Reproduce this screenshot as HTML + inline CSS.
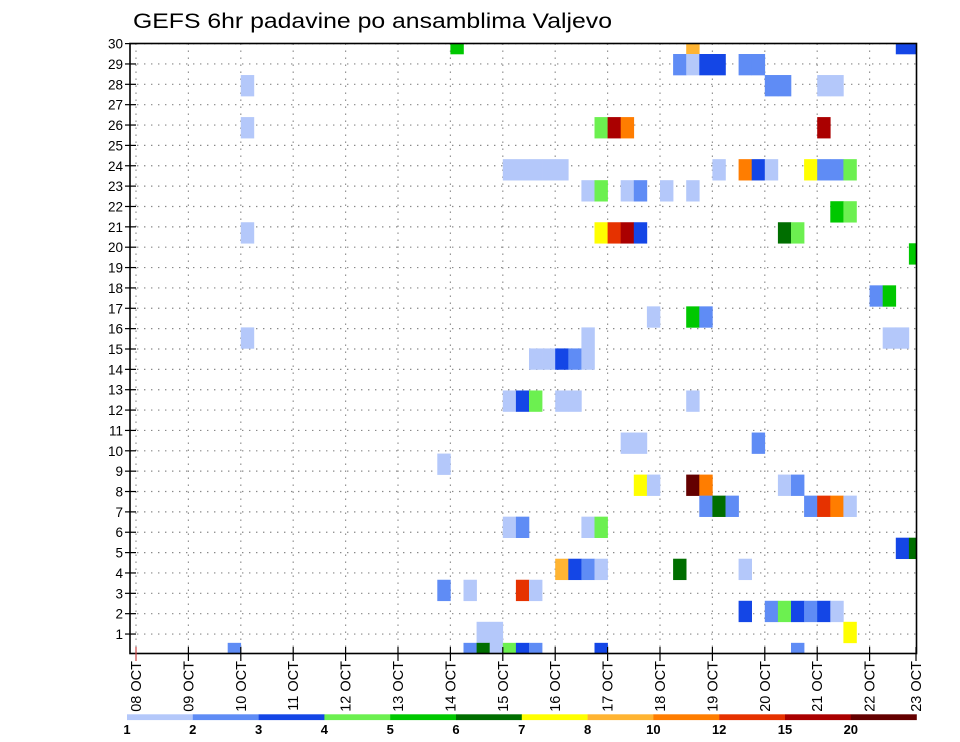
<!DOCTYPE html>
<html><head><meta charset="utf-8"><style>
html,body{margin:0;padding:0;background:#fff;}
svg{display:block;font-family:"Liberation Sans",sans-serif;}
</style></head><body>
<svg id="chart" width="960" height="742" viewBox="0 0 960 742" xmlns="http://www.w3.org/2000/svg">
<text x="133" y="28" font-size="21" textLength="479" lengthAdjust="spacingAndGlyphs" fill="#000">GEFS 6hr padavine po ansamblima Valjevo</text>
<defs><clipPath id="plotclip"><rect x="130" y="43.5" width="786.5" height="610"/></clipPath></defs>
<g id="grid"></g>
<g id="cells" clip-path="url(#plotclip)"></g>
<rect x="130" y="43.5" width="786.5" height="610" fill="none" stroke="#000" stroke-width="1.6"/>
<g id="axes"></g>
<g id="cbar"></g>
</svg>
<script>
// data
const dayLabels = ["08 OCT","09 OCT","10 OCT","11 OCT","12 OCT","13 OCT","14 OCT","15 OCT","16 OCT","17 OCT","18 OCT","19 OCT","20 OCT","21 OCT","22 OCT","23 OCT"];
const memberTicks = [1,2,3,4,5,6,7,8,9,10,11,12,13,14,15,16,17,18,19,20,21,22,23,24,25,26,27,28,29,30];
const classLabels = ["1","2","3","4","5","6","7","8","10","12","15","20"];
const classColors = ["#b4c8fa","#5f8cf5","#1446e6","#6cf050","#00c800","#006e00","#ffff00","#ffb432","#ff7d00","#e63200","#aa0000","#640000"];
// cells: 6h slot index from 08 OCT 00Z, member band, colour class (1..12)
const cellSlots   = [42,24,58,59, 41,42,43,44,46,47, 8,48,49,52,53, 8,35,36,37,52, 28,29,30,31,32,44,46,47,48,51,52,53,54, 34,35,37,38,40,42, 53,54, 8,35,36,37,38,49,50, 59, 56,57, 39,42,43, 8,34,57,58, 30,31,32,33,34, 28,29,30,32,33,42, 37,38,47, 23, 38,39,42,43,49,50, 43,44,45,51,52,53,54, 28,29,34,35, 58,59, 32,33,34,35,41,46, 23,25,29,30, 46,48,49,50,51,52,53, 26,27,54, 7,25,26,27,28,29,30,35,50];
const cellMembers = [30,30,30,30, 29,29,29,29,29,29, 28,28,28,28,28, 26,26,26,26,26, 24,24,24,24,24,24,24,24,24,24,24,24,24, 23,23,23,23,23,23, 22,22, 21,21,21,21,21,21,21, 20, 18,18, 17,17,17, 16,16,16,16, 15,15,15,15,15, 13,13,13,13,13,13, 11,11,11, 10, 9,9,9,9,9,9, 8,8,8,8,8,8,8, 7,7,7,7, 6,6, 5,5,5,5,5,5, 4,4,4,4, 3,3,3,3,3,3,3, 2,2,2, 1,1,1,1,1,1,1,1,1];
const cellClasses = [8,5,3,3, 2,1,3,3,2,2, 1,2,2,1,1, 1,4,11,9,11, 1,1,1,1,1,1,9,3,1,7,2,2,4, 1,4,1,2,1,1, 5,4, 1,7,10,11,3,6,4, 5, 2,5, 1,5,2, 1,1,1,1, 1,1,3,2,1, 1,3,4,1,1,1, 1,1,2, 1, 7,1,12,9,1,2, 2,6,2,2,10,9,1, 1,2,1,4, 3,6, 8,3,2,1,6,1, 2,1,10,1, 3,2,4,3,2,3,1, 1,1,7, 2,2,6,1,4,3,2,3,2];

const NS = "http://www.w3.org/2000/svg";
const DAY = 52.4, SLOT = DAY/4;
function xDay(d){ return 136 + d*DAY; }
function xSlot(k){ return 136 + k*SLOT; }
function yLine(r){ return 654.4 - r*20.36; }
function yBand(m){ return 54 + (29-m)*21.03; }
const BAND = 21.03;
function mk(tag, attrs, parent){ const e=document.createElementNS(NS,tag); for(const k in attrs) e.setAttribute(k,attrs[k]); parent.appendChild(e); return e; }

const grid=document.getElementById('grid'), cells=document.getElementById('cells'), axes=document.getElementById('axes'), cbar=document.getElementById('cbar');

// grid
memberTicks.forEach(r=>{
  const l=mk('line',{x1:130,x2:916.5,y1:yLine(r),y2:yLine(r),stroke:'#888','stroke-width':1.2,'stroke-dasharray':'1.4,5.6'},grid);
  
  
});
dayLabels.forEach((d,i)=>{
  const x=xDay(i); if(x>916) return;
  const l=mk('line',{x1:x,x2:x,y1:43.5,y2:653.5,stroke:'#888','stroke-width':1.2,'stroke-dasharray':'1.4,5.6'},grid);
  
  
});

// cells
cellSlots.forEach((k,i)=>{
  const r=mk('rect',{x:xSlot(k),y:yBand(cellMembers[i]),width:SLOT+0.3,height:BAND+0.3,fill:classColors[cellClasses[i]-1]},cells);
  
  
});

// y axis
memberTicks.forEach(r=>{
  const y=yLine(r);
  mk('line',{x1:125,x2:136,y1:y,y2:y,stroke:'#000','stroke-width':1.2},axes);
  const t=mk('text',{x:123,y:y+5,'font-size':13.5,'text-anchor':'end',fill:'#000'},axes);
  t.textContent=r;
  
  
});
// x axis
dayLabels.forEach((d,i)=>{
  const x=Math.min(xDay(i),916);
  mk('line',{x1:x,x2:x,y1:647,y2:661,stroke:i==0?'#c44':'#000','stroke-width':1.2},axes);
  const t=mk('text',{x:x+5,y:661,'font-size':14.5,'text-anchor':'end',fill:'#000',transform:`rotate(-90 ${x+5} 661)`},axes);
  t.textContent=d;
  
  
});

// colour bar
const CB0=127, CBW=65.8;
classColors.forEach((c,i)=>{
  const r=mk('rect',{x:CB0+i*CBW,y:714.3,width:CBW+0.2,height:5.8,fill:c},cbar);
  
  
  const t=mk('text',{x:CB0+i*CBW,y:734,'font-size':13,'font-weight':'bold','text-anchor':'middle',fill:'#000'},cbar);
  t.textContent=classLabels[i];
  
  
});
</script>
</body></html>
